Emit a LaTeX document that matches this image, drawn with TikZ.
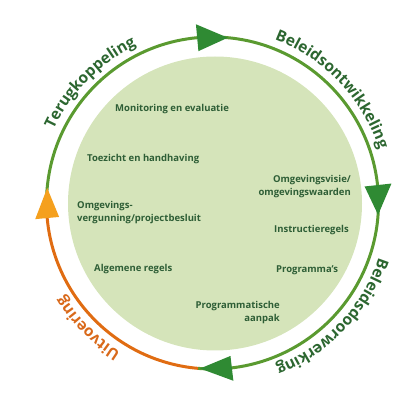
\documentclass[tikz,border=0pt]{standalone}
\usepackage{fontspec}
\setmainfont{Open Sans}
\usetikzlibrary{decorations.text,calc}
\definecolor{fillgreen}{HTML}{D5E4BA}
\definecolor{ringgreen}{HTML}{5A9A30}
\definecolor{headgreen}{HTML}{2F8A33}
\definecolor{txtgreen}{HTML}{2E5E36}
\definecolor{arcgreen}{HTML}{2C6630}
\definecolor{ringorange}{HTML}{E06C12}
\definecolor{headorange}{HTML}{F5A01E}
\definecolor{txtorange}{HTML}{D9691A}
\begin{document}
\begin{tikzpicture}[x=1pt,y=1pt,
  inner/.style={text=txtgreen,font=\bfseries\fontsize{9.5}{12.5}\selectfont,inner sep=0pt},
  ringline/.style={line width=3pt},
  arclabel/.style={decorate,decoration={text along path,text align=center,
     text={|\bfseries\fontsize{15.5}{17}\selectfont|#1}}}
]
\useasboundingbox (0,0) rectangle (409,410);
\coordinate (c) at (212.5,207);
\coordinate (f) at (215,206.5);
% inner disc
\fill[fillgreen] (f) circle[radius=147];
% ring arcs
\draw[ringline,ringgreen] (c) ++(180:166) arc[start angle=180,end angle=-95,radius=166];
\draw[ringline,ringorange] (c) ++(-95:166) arc[start angle=-95,end angle=-180,radius=166];
% arrowheads
\fill[headgreen] ($(c)+(84.7:166)$) -- ($(c)+(95.3:179.5)$) -- ($(c)+(95.3:152.5)$) -- cycle;
\fill[headgreen] ($(c)+(-4.1:166)$) -- ($(c)+(6.2:180)$) -- ($(c)+(6.2:153)$) -- cycle;
\fill[headgreen] ($(c)+(-94.3:166)$) -- ($(c)+(-83.3:179)$) -- ($(c)+(-83.3:154)$) -- cycle;
\fill[headorange] ($(c)+(174.8:166)$) -- ($(c)+(185.2:178)$) -- ($(c)+(185.2:154)$) -- cycle;
% arc labels
\path[arclabel=Terugkoppeling,decoration={text color=arcgreen}] (c) ++(160:175) arc[start angle=160,end angle=111,radius=175];
\path[arclabel=Beleidsontwikkeling,decoration={text color=arcgreen}] (c) ++(74:175) arc[start angle=74,end angle=13,radius=175];
\path[arclabel=Beleidsdoorwerking,decoration={text color=arcgreen}] (c) ++(-13:175) arc[start angle=-13,end angle=-74,radius=175];
\path[arclabel=Uitvoering,decoration={text color=txtorange}] (c) ++(-118:175) arc[start angle=-118,end angle=-152,radius=175];
% inner labels
\node[inner,anchor=west] (mon) at (115,301) {Monitoring en evaluatie};
\node[inner,anchor=west] (toe) at (87,251) {Toezicht en handhaving};
\node[inner,anchor=east,align=right] (ovi) at (351,223.5) {Omgevingsvisie/\\omgevingswaarden};
\node[inner,anchor=west,align=left] (ove) at (77,197.5) {Omgevings-\\vergunning/projectbesluit};
\node[inner,anchor=west] (ins) at (274,180) {Instructieregels};
\node[inner,anchor=west] (alg) at (94,141) {Algemene regels};
\node[inner,anchor=west] (pro) at (276,140) {Programma’s};
\node[inner,anchor=east,align=right] (paa) at (280,97.5) {Programmatische\\aanpak};
\end{tikzpicture}
\end{document}
